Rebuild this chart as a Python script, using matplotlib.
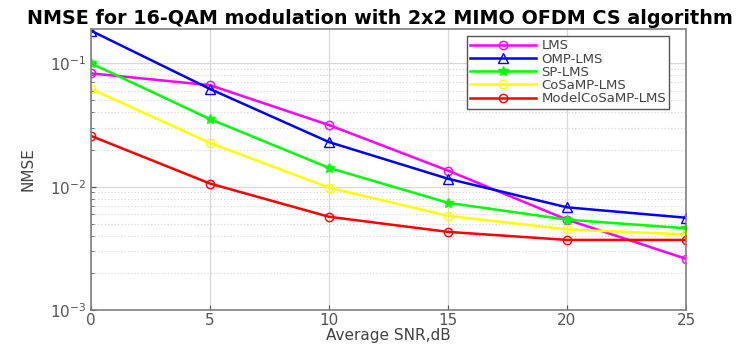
import matplotlib.pyplot as plt
from matplotlib.ticker import LogLocator, NullFormatter

snr = [0, 5, 10, 15, 20, 25]
lms = [0.083, 0.0665, 0.0316, 0.0135, 0.0054, 0.0026]
omp_lms = [0.184, 0.062, 0.023, 0.0116, 0.0068, 0.0056]
sp_lms = [0.100, 0.0353, 0.0142, 0.0074, 0.0054, 0.0046]
cosamp_lms = [0.062, 0.0226, 0.0098, 0.0058, 0.0045, 0.0041]
model_cosamp_lms = [0.0258, 0.0106, 0.0057, 0.0043, 0.0037, 0.0037]

fig = plt.figure(figsize=(7.51, 3.44), dpi=100)
ax = fig.add_axes([91 / 751, 1 - 310 / 344, 595 / 751, 281 / 344])

ax.semilogy(snr, lms, color="#ff00ff", marker="o", mfc="none", ms=6, lw=1.8, label="LMS")
ax.semilogy(snr, omp_lms, color="#0000ff", marker="^", mfc="none", ms=7, lw=1.8, label="OMP-LMS")
ax.semilogy(snr, sp_lms, color="#00ff00", marker="*", ms=7, lw=1.8, label="SP-LMS")
ax.semilogy(snr, cosamp_lms, color="#ffff00", marker="o", mfc="none", ms=6, lw=1.8, label="CoSaMP-LMS")
ax.semilogy(snr, model_cosamp_lms, color="#ff0000", marker="o", mfc="none", ms=6, lw=1.8,
            label="ModelCoSaMP-LMS")

ax.set_xlim(0, 25)
ax.set_ylim(1e-3, 0.19)
ax.set_xticks(snr)
ax.yaxis.set_minor_locator(LogLocator(base=10, subs=range(2, 10)))
ax.yaxis.set_minor_formatter(NullFormatter())
ax.grid(True, which="major", color="#d8d8d8", lw=0.9)
ax.grid(True, which="minor", color="#d8d8d8", ls=":", lw=0.9)
for s in ax.spines.values():
    s.set_color("#808080")
    s.set_linewidth(1.2)
ax.tick_params(colors="#555555", labelsize=11, direction="in", which="both")
ax.tick_params(axis="x", pad=2)

ax.set_xlabel("Average SNR,dB", color="#444444", fontsize=11, labelpad=0)
ax.set_ylabel("NMSE", color="#444444", fontsize=11, labelpad=10)
fig.text(380 / 751, 1 - 24 / 344, "NMSE for 16-QAM modulation with 2x2 MIMO OFDM CS algorithm",
         fontsize=13.8, fontweight="bold", ha="center", va="baseline")

leg = ax.legend(loc="upper right", bbox_to_anchor=(0.972, 0.975), fontsize=9.5,
                fancybox=False, framealpha=1, handlelength=5, borderpad=0.25,
                labelspacing=0.02, handletextpad=0.4, borderaxespad=0)
leg.get_frame().set_edgecolor("#555555")
for t in leg.get_texts():
    t.set_color("#444444")

fig.savefig("out.png", dpi=100)
